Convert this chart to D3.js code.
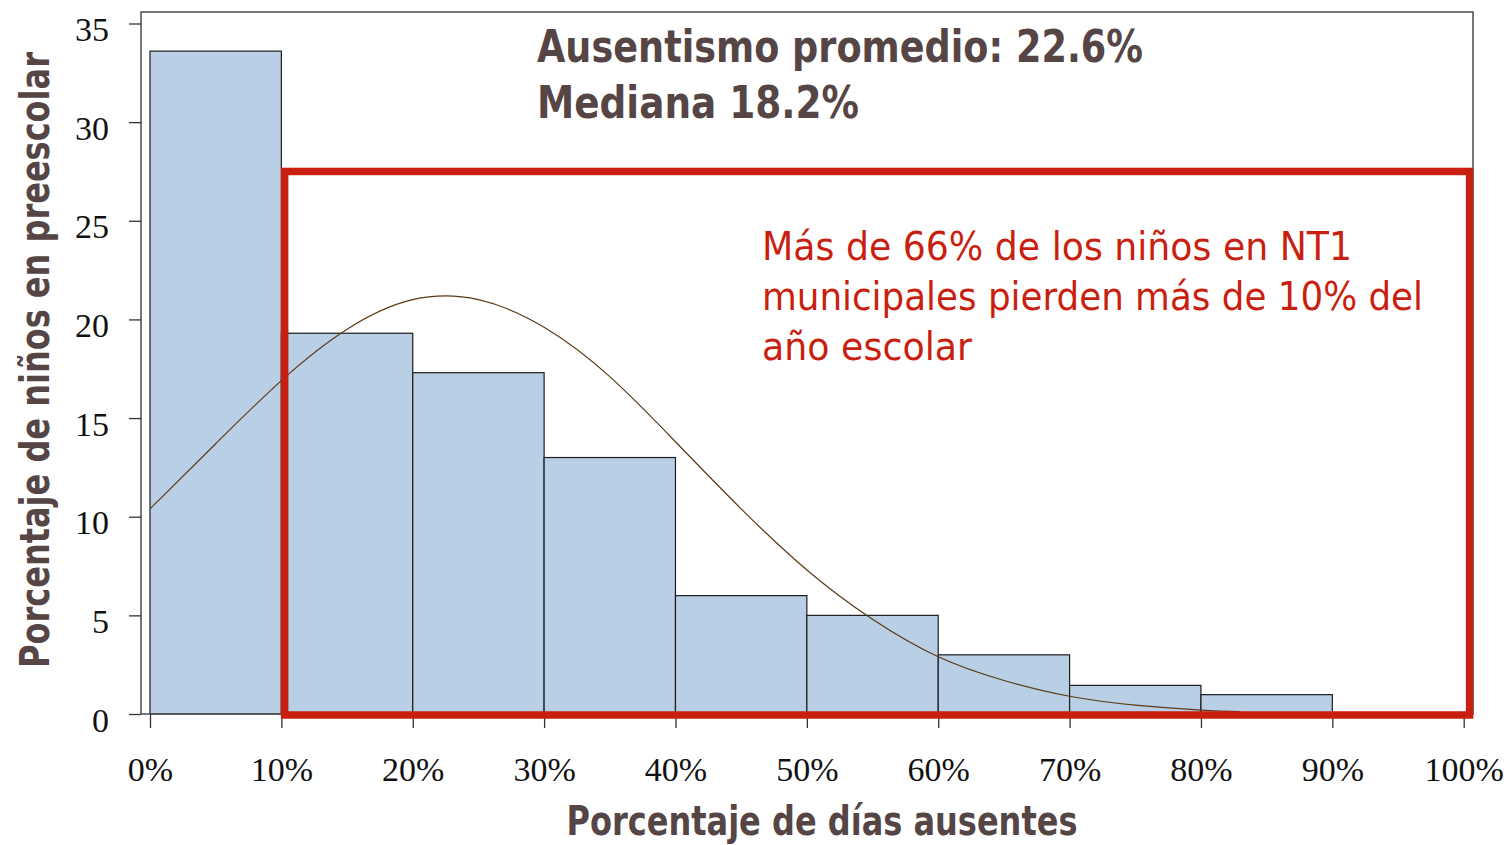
<!DOCTYPE html>
<html>
<head>
<meta charset="utf-8">
<script src="https://cdn.jsdelivr.net/npm/d3@7"></script>
<style>
  body { margin: 0; background: #fff; }
  .tick text { font-family: "Liberation Serif", "Times New Roman", serif; font-size: 34px; fill: #111; }
  .tick line { stroke: #333; stroke-width: 1.3; }
</style>
</head>
<body>
<svg id="chart" width="1504" height="845"></svg>
<script>
// histogram bins (percent of days absent) and share of children
const binStarts = [0, 10, 20, 30, 40, 50, 60, 70, 80];
const binWidth = 10;
const binValues = [33.6, 19.3, 17.3, 13.0, 6.0, 5.0, 3.0, 1.45, 0.98];

// fitted curve
const curveX = [0, 5, 10, 15, 20, 25, 30, 35, 40, 45, 50, 55, 60, 65, 70, 75, 80, 83];
const curveY = [10.4, 13.7, 16.9, 19.5, 21.0, 21.0, 19.6, 17.1, 13.8, 10.4, 7.3, 4.8, 2.9, 1.7, 0.9, 0.45, 0.2, 0.12];

const xTicks = [0, 10, 20, 30, 40, 50, 60, 70, 80, 90, 100];
const yTicks = [0, 5, 10, 15, 20, 25, 30, 35];

// highlighted region: > 10% absent
const highlight = { x0: 10.25, x1: 100.45, y0: -0.05, y1: 27.5 };

const titleLines = ["Ausentismo promedio: 22.6%", "Mediana 18.2%"];
const noteLines = ["Más de 66% de los niños en NT1", "municipales pierden más de 10% del", "año escolar"];
const xLabel = "Porcentaje de días ausentes";
const yLabel = "Porcentaje de niños en preescolar";

const frame = { left: 141, top: 12, right: 1473, bottom: 714 };
const textColor = "#554545";
const red = "#c91f10";

const svg = d3.select("#chart");

const x = d3.scaleLinear().domain([0, 100]).range([150, 1463.7]);
const y = d3.scaleLinear().domain([0, 35]).range([frame.bottom, 23.5]);

// bars
svg.append("g")
  .selectAll("rect")
  .data(binStarts.map((s, i) => ({ s, v: binValues[i] })))
  .join("rect")
  .attr("x", d => x(d.s))
  .attr("y", d => y(d.v))
  .attr("width", d => x(d.s + binWidth) - x(d.s))
  .attr("height", d => y(0) - y(d.v))
  .attr("fill", "#b8cfe6")
  .attr("stroke", "#1c1c1c")
  .attr("stroke-width", 1.2);

// fitted curve
const line = d3.line()
  .x(d => x(d[0]))
  .y(d => y(d[1]))
  .curve(d3.curveNatural);

svg.append("path")
  .datum(curveX.map((v, i) => [v, curveY[i]]))
  .attr("d", line)
  .attr("fill", "none")
  .attr("stroke", "#5a3a14")
  .attr("stroke-width", 1.2);

// frame
svg.append("rect")
  .attr("x", frame.left)
  .attr("y", frame.top)
  .attr("width", frame.right - frame.left)
  .attr("height", frame.bottom - frame.top)
  .attr("fill", "none")
  .attr("stroke", "#555")
  .attr("stroke-width", 1.6);

// axes
const yAxis = svg.append("g")
  .attr("transform", `translate(${frame.left},0)`)
  .call(d3.axisLeft(y).tickValues(yTicks).tickSize(12).tickPadding(20));
yAxis.select(".domain").remove();
yAxis.selectAll(".tick text").attr("dy", "0.5em");

const xAxis = svg.append("g")
  .attr("transform", `translate(0,${frame.bottom})`)
  .call(d3.axisBottom(x).tickValues(xTicks).tickSize(14).tickPadding(29).tickFormat(d => d + "%"));
xAxis.select(".domain").remove();

// red highlight box
svg.append("rect")
  .attr("x", x(highlight.x0))
  .attr("y", y(highlight.y1))
  .attr("width", x(highlight.x1) - x(highlight.x0))
  .attr("height", y(highlight.y0) - y(highlight.y1))
  .attr("fill", "none")
  .attr("stroke", red)
  .attr("stroke-width", 7.5);

const narrow = '"Liberation Sans Narrow", "DejaVu Sans Condensed", "Arial Narrow", sans-serif';

// summary stats
const title = svg.append("g")
  .attr("font-family", narrow)
  .attr("font-weight", "bold")
  .attr("font-size", 45)
  .attr("fill", textColor);
title.selectAll("text")
  .data(titleLines)
  .join("text")
  .attr("x", 537)
  .attr("y", (d, i) => 62 + i * 56)
  .attr("textLength", (d, i) => [606, 322][i])
  .attr("lengthAdjust", "spacingAndGlyphs")
  .text(d => d);

// annotation
const note = svg.append("g")
  .attr("font-family", narrow)
  .attr("font-size", 39)
  .attr("fill", red);
note.selectAll("text")
  .data(noteLines)
  .join("text")
  .attr("x", 762)
  .attr("y", (d, i) => 260 + i * 50)
  .attr("textLength", (d, i) => [590, 661, 210][i])
  .attr("lengthAdjust", "spacingAndGlyphs")
  .text(d => d);

// axis titles
svg.append("text")
  .attr("x", 822)
  .attr("y", 835)
  .attr("text-anchor", "middle")
  .attr("font-family", narrow)
  .attr("font-weight", "bold")
  .attr("font-size", 40)
  .attr("fill", textColor)
  .attr("textLength", 511)
  .attr("lengthAdjust", "spacingAndGlyphs")
  .text(xLabel);

// y title squeezed with a scale so its box matches what is drawn
const yTitle = svg.append("text")
  .attr("text-anchor", "middle")
  .attr("font-family", narrow)
  .attr("font-weight", "bold")
  .attr("font-size", 40)
  .attr("fill", textColor)
  .text(yLabel);
const yTitleLen = yTitle.node().getComputedTextLength();
yTitle.attr("transform", `translate(49,360) rotate(-90) scale(${616 / yTitleLen},1)`);
</script>
</body>
</html>
